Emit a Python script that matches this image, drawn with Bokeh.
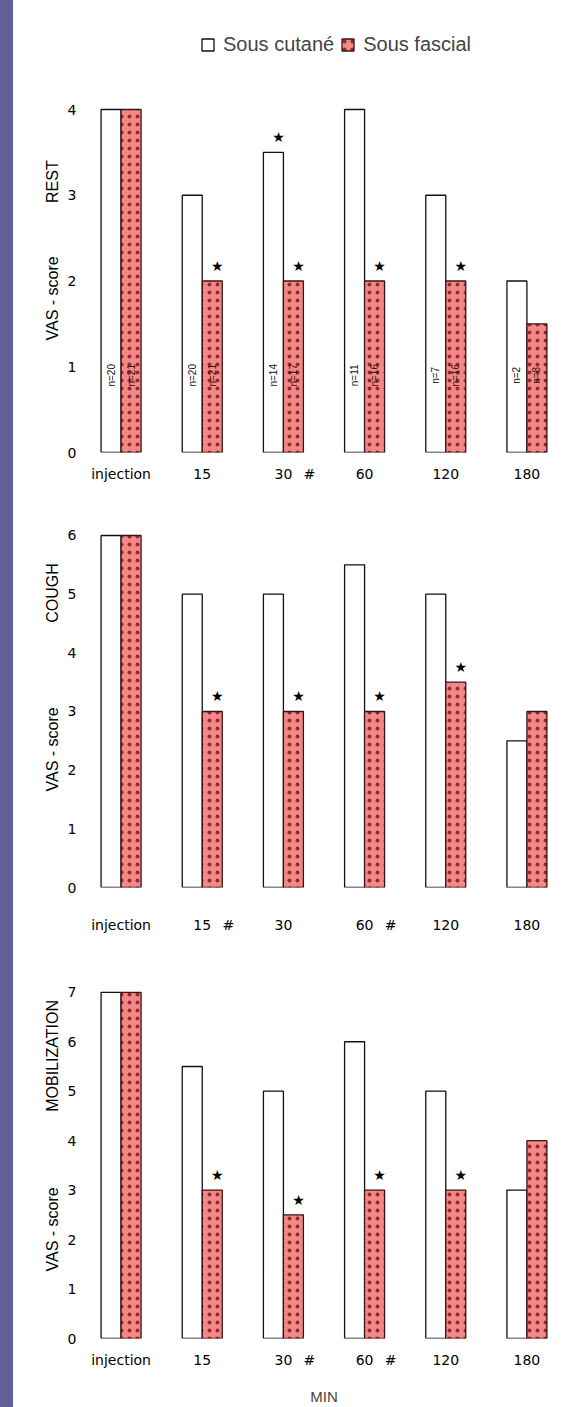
import math
from bokeh.plotting import figure
from bokeh.models import (Range1d, FixedTicker, Legend, LegendItem,
                          ColumnDataSource, Div, Title)
from bokeh.layouts import column, row
from bokeh.transform import dodge
from bokeh.embed import file_html
from bokeh.resources import INLINE
from bokeh.core.properties import value

# ---------------- data ----------------
times = ["injection", "15", "30", "60", "120", "180"]

rest_sc = [4, 3, 3.5, 4, 3, 2]
rest_sf = [4, 2, 2, 2, 2, 1.5]
rest_n_sc = ["n=20", "n=20", "n=14", "n=11", "n=7", "n=2"]
rest_n_sf = ["n=21", "n=21", "n=17", "n=16", "n=16", "n=8"]
rest_star_sc = [0, 0, 1, 0, 0, 0]
rest_star_sf = [0, 1, 1, 1, 1, 0]
rest_hash = ["30"]

cough_sc = [6, 5, 5, 5.5, 5, 2.5]
cough_sf = [6, 3, 3, 3, 3.5, 3]
cough_star_sc = [0, 0, 0, 0, 0, 0]
cough_star_sf = [0, 1, 1, 1, 1, 0]
cough_hash = ["15", "60"]

mob_sc = [7, 5.5, 5, 6, 5, 3]
mob_sf = [7, 3, 2.5, 3, 3, 4]
mob_star_sc = [0, 0, 0, 0, 0, 0]
mob_star_sf = [0, 1, 1, 1, 1, 0]
mob_hash = ["30", "60"]

series_names = ["Sous cutané", "Sous fascial"]
y_title = "VAS - score"
hash_mark = "#"

# ---------------- style ----------------
PURPLE = "#615e9b"
PINK = "#f38888"
DOT = "#8a2020"
EDGE_SF = "#3a1414"
FONT = "Liberation Sans"
TICKFONT = "DejaVu Sans"
NB = "\u00a0"

STRIPE_W = 13
FIG_W = 586 - STRIPE_W
LEFT = 67
FRAME_W = 487
RIGHT = FIG_W - LEFT - FRAME_W
CAT_PX = FRAME_W / len(times)
BW = 20 / CAT_PX
HASH_DX = 26 / CAT_PX

# category centres on the numeric x scale (one unit per time point)
centres = [i + 0.5 for i in range(len(times))]


def style_axis(ax):
    ax.axis_line_color = None
    ax.major_tick_line_color = None
    ax.minor_tick_line_color = None
    ax.major_tick_out = 0
    ax.major_tick_in = 0
    ax.major_label_text_font = TICKFONT
    ax.major_label_text_font_size = "14px"
    ax.major_label_text_color = "black"


def make_panel(sc, sf, star_sc, star_sf, hashes, title, ymax, fig_h, top,
               bottom, y_end, x_standoff, gap_nb, title_offset,
               n_sc=None, n_sf=None, legend=False, xlabel=None):
    p = figure(x_range=Range1d(0, len(times)), y_range=Range1d(0, y_end),
               width=FIG_W, height=fig_h, min_border_left=LEFT,
               min_border_right=RIGHT, min_border_top=top,
               min_border_bottom=bottom, toolbar_location=None,
               output_backend="svg", outline_line_color=None)
    p.grid.visible = False

    src = ColumnDataSource(dict(c=centres, sc=sc, sf=sf))
    r1 = p.vbar(x=dodge("c", -BW / 2), top="sc", width=BW, source=src,
                fill_color="white", line_color="#111111", line_width=1.3)
    r2 = p.vbar(x=dodge("c", BW / 2), top="sf", width=BW, source=src,
                fill_color=PINK, line_color=EDGE_SF, line_width=1.3,
                hatch_pattern="dot", hatch_color=DOT, hatch_scale=8,
                hatch_weight=1.8, hatch_alpha=0.9)

    # significance stars
    for vals, flags, off in ((sc, star_sc, -BW / 2), (sf, star_sf, BW / 2)):
        xs = [c for c, f in zip(centres, flags) if f]
        ys = [v for v, f in zip(vals, flags) if f]
        if xs:
            s = ColumnDataSource(dict(c=xs, v=ys))
            p.text(x=dodge("c", off + 5 / CAT_PX), y="v",
                   text=value("★"), source=s, y_offset=-15,
                   text_align="center", text_baseline="middle",
                   text_font=value("DejaVu Sans"), text_font_size="14px",
                   text_color="black")

    # n= labels
    if n_sc is not None:
        s = ColumnDataSource(dict(c=centres, a=n_sc, b=n_sf))
        p.text(x=dodge("c", -BW / 2), y=0.9, text="a", source=s,
               angle=math.pi / 2, text_align="center",
               text_baseline="middle", text_font=value(FONT),
               text_font_size="10px", text_color="#111111")
        p.text(x=dodge("c", BW / 2), y=0.9, text="b", source=s,
               angle=math.pi / 2, text_align="center",
               text_baseline="middle", text_font=value(FONT),
               text_font_size="10px", text_color="#3a1010")

    # vertical title on the left: "VAS - score" ... panel name
    p.add_layout(Title(text=y_title + NB * gap_nb + title,
                       align="left", offset=title_offset,
                       text_font=FONT, text_font_size="16px",
                       text_font_style="normal", text_color="black",
                       standoff=8), "left")

    # y axis
    p.yaxis.ticker = FixedTicker(ticks=list(range(ymax + 1)))
    style_axis(p.yaxis[0])
    p.yaxis.major_label_standoff = 4

    # x axis: time labels at the centres plus '#' marks
    ticks, labels = [], {}
    for c, t in zip(centres, times):
        ticks.append(c)
        labels[c] = t
    for h in hashes:
        pos = centres[times.index(h)] + HASH_DX
        ticks.append(pos)
        labels[pos] = hash_mark
    xa = p.xaxis[0]
    xa.ticker = FixedTicker(ticks=ticks)
    xa.major_label_overrides = labels
    style_axis(xa)
    xa.major_label_standoff = x_standoff
    if xlabel:
        xa.axis_label = xlabel
        xa.axis_label_text_font = FONT
        xa.axis_label_text_font_style = "normal"
        xa.axis_label_text_font_size = "15px"
        xa.axis_label_standoff = 17

    if legend:
        lg = Legend(items=[LegendItem(label=series_names[0], renderers=[r1]),
                           LegendItem(label=series_names[1], renderers=[r2])],
                    orientation="horizontal", location=(120, 396),
                    padding=0, margin=0, border_line_color=None,
                    background_fill_alpha=0, glyph_width=15, glyph_height=15,
                    label_standoff=8, spacing=6,
                    label_text_font=FONT, label_text_font_size="20px")
        p.add_layout(lg)
    return p


p1 = make_panel(rest_sc, rest_sf, rest_star_sc, rest_star_sf, rest_hash,
                "REST", 4, 500, 20, 48, 432 / 85.75, 13, 12, 112,
                rest_n_sc, rest_n_sf, legend=True)
p2 = make_panel(cough_sc, cough_sf, cough_star_sc, cough_star_sf, cough_hash,
                "COUGH", 6, 450, 15, 63, 372 / 58.67, 29, 19, 96)
p3 = make_panel(mob_sc, mob_sf, mob_star_sc, mob_star_sf, mob_hash,
                "MOBILIZATION", 7, 457, 25, 64, 368 / 50.14, 13, 17, 67,
                xlabel="MIN")

stripe = Div(text="", width=STRIPE_W, height=1407, margin=0,
             styles={"background-color": PURPLE})
layout = row(stripe, column(p1, p2, p3, spacing=0), spacing=0)

open("out.html", "w").write(file_html(layout, INLINE))
